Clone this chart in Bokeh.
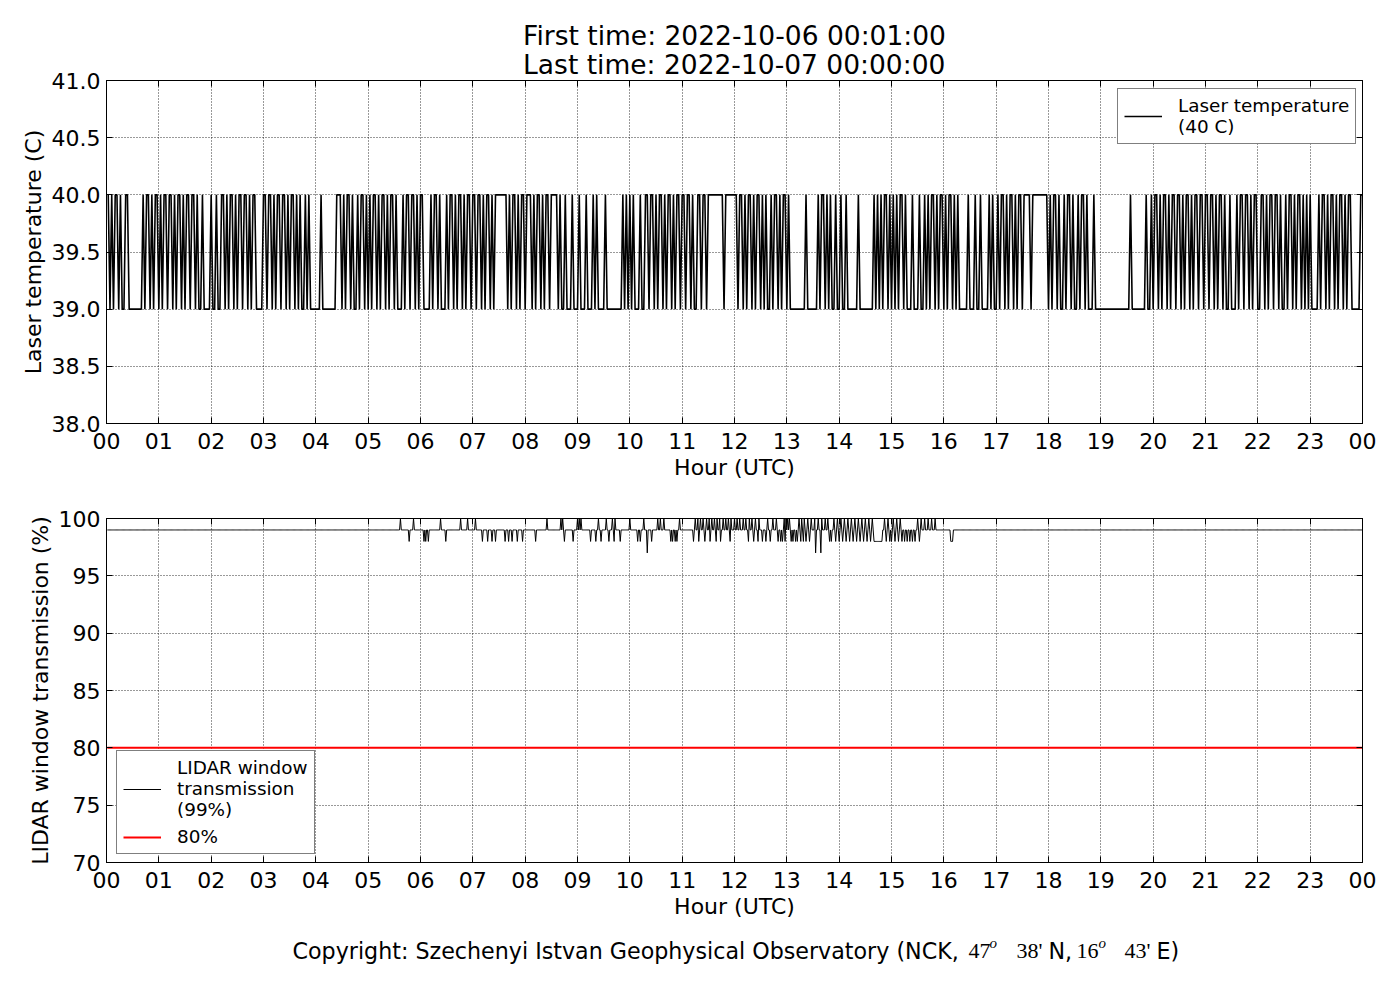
import numpy as np
from bokeh.plotting import figure
from bokeh.models import (Range1d, FixedTicker, LinearAxis, Label, Legend, LegendItem,
                          NumeralTickFormatter, Title)
from bokeh.layouts import column
from bokeh.embed import file_html
from bokeh.resources import INLINE

FONT = "DejaVu Sans"
SERIF = "Liberation Serif"

# ---------------- data ----------------
title_lines = ["First time: 2022-10-06 00:01:00", "Last time: 2022-10-07 00:00:00"]

hour_ticks = [0, 1, 2, 3, 4, 5, 6, 7, 8, 9, 10, 11, 12, 13, 14, 15, 16, 17, 18, 19, 20, 21, 22, 23, 24]
hour_labels = ["00", "01", "02", "03", "04", "05", "06", "07", "08", "09", "10", "11", "12",
               "13", "14", "15", "16", "17", "18", "19", "20", "21", "22", "23", "00"]
temp_ticks = [38.0, 38.5, 39.0, 39.5, 40.0, 40.5, 41.0]
lidar_ticks = [70, 75, 80, 85, 90, 95, 100]

# Laser temperature, one character per 2-minute step, one string per hour
# "1" = 40 C, "0" = 39 C
laser_temp_steps = [
    "1010110100110" "0000000" "1011010110",                      # 00
    "1011011010110101101101" "0010000" "1",                      # 01
    "00100" "110101101011011010110" "0001",                      # 02
    "10110101101101011010" "100101" "0000",                      # 03
    "00" "1" "00000000" "111" "0101101001011010",                # 04
    "1011010110" "1011010001" "0110110101",                      # 05
    "10" "000" "101101" "000" "1011010110101101",                # 06
    "1011010110101" "111111" "01011010110",                      # 07
    "111" "010110101101" "111" "010010" "001000",                # 08
    "1000" "100010100001" "000000000" "10101",                   # 09
    "010001001" "101101011010110101101",                         # 10
    "10110100110" "11011" "1111111" "0" "111111",                # 11
    "101101011010110101" "00" "1011010110",                      # 12
    "1" "000000000" "1" "000000" "10110101" "00100",             # 13
    "10010" "00000100000000" "101" "0" "1011010",                # 14
    "1" "01011010" "001000100" "10101101011" "0",                # 15
    "101101" "01" "00000" "1" "000" "1" "00" "1" "0000" "1" "0" "1" "00",  # 16
    "101101011010110" "1111" "0" "111111111" "0",                # 17
    "1011010010110100101101" "000" "1" "0000",                   # 18
    "0000000000000000" "1" "00000000" "1" "0010",                # 19
    "1101011010" "1101101011" "0101101101",                      # 20
    "1011010110" "1001000101" "1011010110",                      # 21
    "0110101101" "1010010110" "1011010101",                      # 22
    "0000" "1011010110101101011" "00000" "11",                   # 23
]
laser_high = 40.0
laser_low = 39.0

# LIDAR window transmission, 1-minute samples: base value and exceptions (minute of day)
lidar_base = 99.0
lidar_100_minutes = [337, 352, 383, 406, 414, 423, 505, 521, 523, 540, 542, 544, 564, 573, 580, 583,
                     600, 616, 632, 635, 639, 657,
                     675, 678, 681, 684, 688, 691, 694, 697, 700, 703, 707, 710, 713, 716, 720, 723,
                     726, 730, 733, 737, 740, 744, 748, 758, 764, 768, 777, 779, 781, 783,
                     794, 797, 800, 804, 808, 812, 816, 820, 824, 827,
                     834, 838, 842, 846, 850, 854, 858, 862, 866, 870, 874, 878,
                     892, 896, 902, 906, 910, 930, 934, 938, 942, 946, 950]
lidar_98_minutes = [347, 364, 366, 369, 389, 431, 437, 442, 446, 457, 461, 465, 471, 477, 492, 525,
                    535, 555, 561, 567, 576, 582, 589, 609, 612, 625, 647, 649, 652, 654,
                    673, 679, 686, 692, 699, 704, 715, 736, 742, 747, 752, 756, 761,
                    770, 773, 775, 778, 785, 787, 790, 792, 796, 799, 802, 806,
                    829, 831, 836, 840, 844, 848, 852, 856, 860, 864, 868, 872, 876,
                    880, 881, 882, 883, 884, 885, 886, 887, 888, 889,
                    894, 898, 900, 904, 908, 912, 915, 918, 921, 924, 927, 932,
                    968, 969, 970]
lidar_97_minutes = [620, 813, 819]
lidar_threshold = 80.0

legend_temp = "Laser temperature\n(40 C)"
legend_lidar = "LIDAR window\ntransmission\n(99%)"
legend_thr = "80%"

copyright_parts = ["Copyright: Szechenyi Istvan Geophysical Observatory (NCK,", "47", "o", "38'",
                   "N,", "16", "o", "43'", "E)"]

# ---------------- build series ----------------
steps = "".join(laser_temp_steps)
assert len(steps) == 720, len(steps)
temp_values = [laser_high if c == "1" else laser_low for c in steps]
temp_hours = [(2 * k + 2) / 60.0 for k in range(len(steps))]

lidar_minutes = np.arange(1, 1441)
lidar_values = np.full(lidar_minutes.shape, lidar_base)
lidar_values[np.array(lidar_100_minutes) - 1] = 100.0
lidar_values[np.array(lidar_98_minutes) - 1] = 98.0
lidar_values[np.array(lidar_97_minutes) - 1] = 97.0
lidar_hours = lidar_minutes / 60.0
thr_values = np.full(lidar_minutes.shape, lidar_threshold)

FW = 1256
LB, RB = 106, 30


def make_fig(yr, fh, top_b, bot_b):
    return figure(frame_width=FW, frame_height=fh, x_range=Range1d(0, 24), y_range=yr,
                  output_backend="svg", toolbar_location=None, title=None,
                  min_border_left=LB, min_border_right=RB, min_border_top=top_b,
                  min_border_bottom=bot_b, background_fill_color="white",
                  border_fill_color="white", outline_line_color="black",
                  outline_line_width=1)


def style(p, yticks, ylabel, yfmt=None):
    p.xaxis.ticker = FixedTicker(ticks=hour_ticks)
    p.xaxis.major_label_overrides = {t: l for t, l in zip(hour_ticks, hour_labels)}
    p.yaxis.ticker = FixedTicker(ticks=yticks)
    if yfmt:
        p.yaxis.formatter = NumeralTickFormatter(format=yfmt)
    p.xaxis.axis_label = "Hour (UTC)"
    p.yaxis.axis_label = ylabel
    for ax in (p.xaxis[0], p.yaxis[0]):
        ax.major_label_text_font = FONT
        ax.major_label_text_font_size = "22px"
        ax.major_label_text_color = "black"
        ax.axis_label_text_font = FONT
        ax.axis_label_text_font_size = "22px"
        ax.axis_label_text_font_style = "normal"
        ax.axis_label_text_color = "black"
        ax.major_tick_in = 6
        ax.major_tick_out = 0
        ax.minor_tick_in = 0
        ax.minor_tick_out = 0
        ax.major_tick_line_color = "black"
        ax.axis_line_color = "black"
        ax.axis_label_standoff = 3
    p.xaxis.major_label_standoff = 9
    p.yaxis.major_label_standoff = 6
    for loc, tk in (("above", hour_ticks), ("right", yticks)):
        ax = LinearAxis(ticker=FixedTicker(ticks=tk),
                        major_label_overrides={t: "" for t in tk},
                        major_label_text_font_size="0px",
                        major_tick_in=6, major_tick_out=0, minor_tick_in=0, minor_tick_out=0,
                        major_label_standoff=0, axis_line_color="black",
                        major_tick_line_color="black")
        p.add_layout(ax, loc)
    p.grid.grid_line_color = "black"
    p.grid.grid_line_dash = "1 2"
    p.grid.grid_line_width = 1
    p.grid.grid_line_alpha = 0.8


def legend(items, loc):
    return Legend(items=items, location=loc, margin=0, padding=6, spacing=6,
                  label_standoff=16, glyph_width=38, glyph_height=20,
                  border_line_color="black", border_line_width=1,
                  background_fill_color="white", background_fill_alpha=1.0,
                  label_text_font=FONT, label_text_font_size="18.4px",
                  label_text_color="black")


# ---------------- top panel ----------------
p1 = make_fig(Range1d(38, 41), 343, 80, 70)
style(p1, temp_ticks, "Laser temperature (C)", "0.0")
p1.add_layout(Title(text="\n".join(title_lines), align="center", vertical_align="bottom",
                    standoff=0, text_font=FONT, text_font_size="26.5px",
                    text_font_style="normal", text_color="black", text_line_height=0.94),
              "above")
r1 = p1.line(temp_hours, temp_values, line_color="black", line_width=1.6)
p1.add_layout(legend([LegendItem(label=legend_temp, renderers=[r1])], (1011, 279)))

# ---------------- bottom panel ----------------
p2 = make_fig(Range1d(70, 100), 344, 25, 70)
style(p2, lidar_ticks, "LIDAR window transmission (%)")
r2 = p2.line(lidar_hours, lidar_values, line_color="black", line_width=1)
r3 = p2.line(lidar_hours, thr_values, line_color="red", line_width=2)
p2.add_layout(legend([LegendItem(label=legend_lidar, renderers=[r2]),
                      LegendItem(label=legend_thr, renderers=[r3])], (10, 8)))

# ---------------- footer (copyright) ----------------
FH = 50
footer = figure(frame_width=FW, frame_height=FH, x_range=Range1d(LB, LB + FW),
                y_range=Range1d(0, FH), output_backend="svg", toolbar_location=None,
                min_border_left=LB, min_border_right=RB, min_border_top=0,
                min_border_bottom=0, x_axis_type=None, y_axis_type=None,
                outline_line_color=None, background_fill_color="white",
                border_fill_color="white", title=None)
footer.grid.visible = False
cy = FH - 18
styles = [(292, FONT, "22.2px", "normal", 0), (968, SERIF, "22px", "normal", 0),
          (989, SERIF, "15px", "italic", 8), (1016, SERIF, "22px", "normal", 0),
          (1048, FONT, "22.2px", "normal", 0), (1076, SERIF, "22px", "normal", 0),
          (1098, SERIF, "15px", "italic", 8), (1124, SERIF, "22px", "normal", 0),
          (1156, FONT, "22.2px", "normal", 0)]
for txt, (xr, fnt, fs, fst, dy) in zip(copyright_parts, styles):
    footer.add_layout(Label(x=xr, y=cy + dy, text=txt, text_align="left",
                            text_baseline="middle", text_font=fnt, text_font_size=fs,
                            text_font_style=fst, text_color="black"))

layout = column(p1, p2, footer)
open("out.html", "w").write(file_html(layout, INLINE, "Laser temperature and LIDAR window"))
